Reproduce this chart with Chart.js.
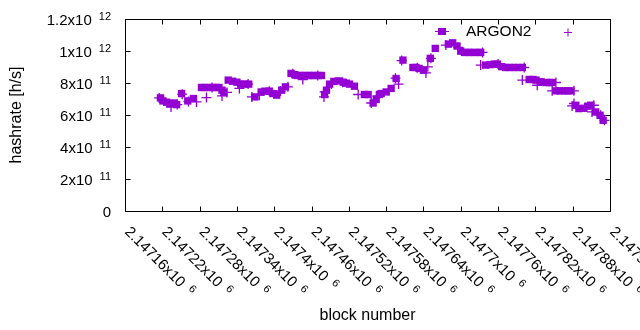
<!DOCTYPE html>
<html>
<head>
<meta charset="utf-8">
<script src="https://cdn.jsdelivr.net/npm/chart.js@4.4.1/dist/chart.umd.min.js"></script>
<style>
  html, body { margin: 0; padding: 0; background: #fff; }
  #wrap { width: 640px; height: 330px; }
</style>
</head>
<body>
<div id="wrap"><canvas id="graficoPuntos" width="640" height="330"></canvas></div>
<script>
// block numbers and hashrate (h/s)
const bloques = [2147217, 2147221, 2147227, 2147233, 2147239, 2147243, 2147251, 2147261, 2147270,
  2147283, 2147288, 2147295, 2147301, 2147306, 2147311, 2147316, 2147319, 2147326, 2147333, 2147340,
  2147346, 2147352, 2147359, 2147369, 2147379, 2147385, 2147392, 2147398, 2147404, 2147412, 2147418,
  2147427, 2147433, 2147437, 2147443, 2147449, 2147455, 2147460, 2147465, 2147471, 2147476, 2147481,
  2147484, 2147489, 2147496, 2147503, 2147511, 2147516, 2147521, 2147529, 2147545, 2147551, 2147559,
  2147564, 2147569, 2147572, 2147580, 2147588, 2147596, 2147607, 2147623, 2147628, 2147633, 2147640,
  2147651, 2147659, 2147680, 2147687, 2147694, 2147700, 2147706, 2147712, 2147716, 2147722, 2147728,
  2147732, 2147740, 2147747, 2147754, 2147759, 2147766, 2147772, 2147779, 2147785, 2147792, 2147799,
  2147810, 2147816, 2147821, 2147829, 2147837, 2147843, 2147847, 2147853, 2147859, 2147866, 2147872,
  2147877, 2147885, 2147890, 2147898, 2147904, 2147909, 2147917, 2147924, 2147929];
const hashrate = [7.07e11, 6.88e11, 6.80e11, 6.72e11, 6.75e11, 6.65e11, 7.34e11, 6.88e11, 7.03e11,
  7.72e11, 7.72e11, 7.72e11, 7.72e11, 7.72e11, 7.72e11, 7.55e11, 7.41e11, 8.18e11, 8.11e11, 8.05e11,
  7.93e11, 7.93e11, 7.93e11, 7.13e11, 7.44e11, 7.49e11, 7.49e11, 7.34e11, 7.24e11, 7.55e11, 7.76e11,
  8.60e11, 8.52e11, 8.47e11, 8.47e11, 8.47e11, 8.47e11, 8.47e11, 8.47e11, 8.47e11, 8.47e11, 7.28e11,
  7.55e11, 7.93e11, 8.10e11, 8.13e11, 8.05e11, 7.99e11, 7.93e11, 7.80e11, 7.28e11, 7.28e11, 6.75e11,
  6.97e11, 7.28e11, 7.34e11, 7.44e11, 7.66e11, 8.28e11, 9.43e11, 8.97e11, 8.97e11, 8.91e11, 8.80e11,
  9.54e11, 1.016e12, 1.043e12, 1.051e12, 1.031e12, 9.99e11, 9.91e11, 9.91e11, 9.91e11, 9.91e11, 9.91e11,
  9.91e11, 9.12e11, 9.15e11, 9.18e11, 9.18e11, 9.02e11, 8.97e11, 8.97e11, 8.97e11, 8.97e11, 8.97e11,
  8.22e11, 8.22e11, 8.18e11, 8.08e11, 8.03e11, 8.03e11, 8.03e11, 7.51e11, 7.51e11, 7.51e11, 7.51e11,
  7.51e11, 6.61e11, 6.40e11, 6.42e11, 6.55e11, 6.61e11, 6.19e11, 5.98e11, 5.67e11];

// second series (plus marks)
const bloquesMas = [2147215, 2147222, 2147234, 2147244, 2147252, 2147262, 2147275, 2147291, 2147300,
  2147316, 2147324, 2147344, 2147358, 2147364, 2147376, 2147392, 2147410, 2147422, 2147430, 2147446,
  2147470, 2147481, 2147480, 2147492, 2147510, 2147535, 2147556, 2147566, 2147584, 2147600, 2147595,
  2147605, 2147630, 2147644, 2147647, 2147652, 2147676, 2147696, 2147735, 2147732, 2147760, 2147802,
  2147799, 2147823, 2147853, 2147847, 2147882, 2147882, 2147879, 2147914, 2147911, 2147925, 2147931];
const hashrateMas = [7.07e11, 6.90e11, 6.50e11, 6.65e11, 7.30e11, 6.85e11, 6.82e11, 7.09e11, 7.72e11,
  7.19e11, 7.41e11, 7.66e11, 7.93e11, 7.13e11, 7.24e11, 7.49e11, 7.50e11, 7.76e11, 8.58e11, 8.22e11,
  8.47e11, 7.44e11, 7.13e11, 7.93e11, 8.05e11, 7.28e11, 6.75e11, 7.20e11, 7.55e11, 7.93e11, 8.30e11,
  9.40e11, 8.95e11, 8.63e11, 9.01e11, 9.54e11, 1.037e12, 1.023e12, 9.91e11, 9.12e11, 9.18e11, 8.97e11,
  8.18e11, 7.86e11, 8.03e11, 7.51e11, 7.51e11, 6.72e11, 6.57e11, 6.61e11, 6.19e11, 5.98e11, 5.67e11];

const ticksX = {min: 2147160, max: 2147940, step: 60};
const ticksY = {min: 0, max: 1.2e12, step: 2e11};
const etiqueta = 'ARGON2';

const violeta = '#9400d3';
const fuente = '"Liberation Sans", Arial, sans-serif';

// splits a number into mantissa and power of ten, gnuplot style
const partir = (v) => {
    if (v === 0) return ['0', ''];
    const exp = Math.floor(Math.log10(Math.abs(v)) + 1e-9);
    const man = parseFloat((v / Math.pow(10, exp)).toFixed(6)).toString();
    return [man + 'x10', String(exp)];
};

// draws "base exp" with the exponent raised, anchored at (x, y) baseline, align left/right
const textoSup = (ctx, base, exp, x, y, align) => {
    ctx.font = '15px ' + fuente;
    const wb = ctx.measureText(base).width;
    ctx.font = '11px ' + fuente;
    const we = exp ? ctx.measureText(exp).width : 0;
    const gap = exp ? 7 : 0;
    const total = wb + gap + we;
    const x0 = align === 'right' ? x - total : x;
    ctx.textAlign = 'left';
    ctx.textBaseline = 'alphabetic';
    ctx.font = '15px ' + fuente;
    ctx.fillText(base, x0, y);
    if (exp) {
        ctx.font = '11px ' + fuente;
        ctx.fillText(exp, x0 + wb + gap, y - 5);
    }
};

const marco = {
    id: 'marco',
    afterDraw(chart) {
        const ctx = chart.ctx;
        const a = chart.chartArea;
        const sx = chart.scales.x;
        const sy = chart.scales.y;
        ctx.save();
        ctx.strokeStyle = '#000';
        ctx.fillStyle = '#000';
        ctx.lineWidth = 1;
        const L = Math.round(a.left) + 0.5, R = Math.round(a.right) + 0.5;
        const T = Math.round(a.top) + 0.5, B = Math.round(a.bottom) + 0.5;
        ctx.strokeRect(L, T, R - L, B - T);
        const tl = 5;
        ctx.beginPath();
        sy.ticks.forEach(t => {
            const y = Math.round(sy.getPixelForValue(t.value)) + 0.5;
            ctx.moveTo(L, y); ctx.lineTo(L + tl, y);
            ctx.moveTo(R, y); ctx.lineTo(R - tl, y);
        });
        sx.ticks.forEach(t => {
            const x = Math.round(sx.getPixelForValue(t.value)) + 0.5;
            ctx.moveTo(x, B); ctx.lineTo(x, B - tl);
            ctx.moveTo(x, T); ctx.lineTo(x, T + tl);
        });
        ctx.stroke();

        // y tick labels
        sy.ticks.forEach(t => {
            const y = sy.getPixelForValue(t.value);
            const [b, e] = partir(t.value);
            textoSup(ctx, b, e, 111, y + 5.5, 'right');
        });
        // x tick labels, rotated
        sx.ticks.forEach(t => {
            const x = sx.getPixelForValue(t.value);
            const [b, e] = partir(t.value);
            ctx.save();
            ctx.translate(x - 1, B + 21);
            ctx.rotate(Math.PI / 4);
            textoSup(ctx, b, e, 0, 0, 'left');
            ctx.restore();
        });

        // axis titles
        ctx.font = '16px ' + fuente;
        ctx.textAlign = 'center';
        ctx.textBaseline = 'middle';
        ctx.fillText('block number', (a.left + a.right) / 2, 316);
        ctx.save();
        ctx.translate(17, (a.top + a.bottom) / 2);
        ctx.rotate(-Math.PI / 2);
        ctx.fillText('hashrate [h/s]', 0, 0);
        ctx.restore();

        // key
        ctx.font = '15.5px ' + fuente;
        ctx.textAlign = 'left';
        ctx.textBaseline = 'middle';
        ctx.fillText(etiqueta, 466, 32);
        ctx.fillStyle = violeta;
        ctx.strokeStyle = violeta;
        ctx.fillRect(438, 28, 8, 7);
        ctx.beginPath();
        ctx.moveTo(435, 31.5); ctx.lineTo(449, 31.5);
        ctx.moveTo(564, 32.5); ctx.lineTo(572, 32.5);
        ctx.moveTo(568, 28.5); ctx.lineTo(568, 36.5);
        ctx.stroke();
        ctx.restore();
    }
};

const puntos = (xs, ys) => xs.map((b, i) => ({x: b, y: ys[i]}));

new Chart(document.querySelector('#graficoPuntos'), {
    type: 'scatter',
    data: {
        datasets: [
            {label: etiqueta,
            data: puntos(bloques, hashrate),
            pointStyle: 'rect',
            pointRadius: 5.2,
            backgroundColor: violeta,
            borderColor: violeta,
            borderWidth: 0
            },
            {label: '',
            data: puntos(bloquesMas, hashrateMas),
            pointStyle: 'cross',
            pointRadius: 5,
            borderColor: violeta,
            borderWidth: 1.3
            }
        ]
    },
    options: {
        responsive: false,
        animation: false,
        events: [],
        layout: {padding: {left: 117, right: 30, top: 19, bottom: 111}},
        plugins: {legend: {display: false}, tooltip: {enabled: false}},
        scales: {
            x: {
                type: 'linear', min: ticksX.min, max: ticksX.max,
                ticks: {stepSize: ticksX.step, display: false},
                grid: {display: false}, border: {display: false}
            },
            y: {
                type: 'linear', min: ticksY.min, max: ticksY.max,
                ticks: {stepSize: ticksY.step, display: false},
                grid: {display: false}, border: {display: false}
            }
        }
    },
    plugins: [marco]
});
</script>
</body>
</html>
